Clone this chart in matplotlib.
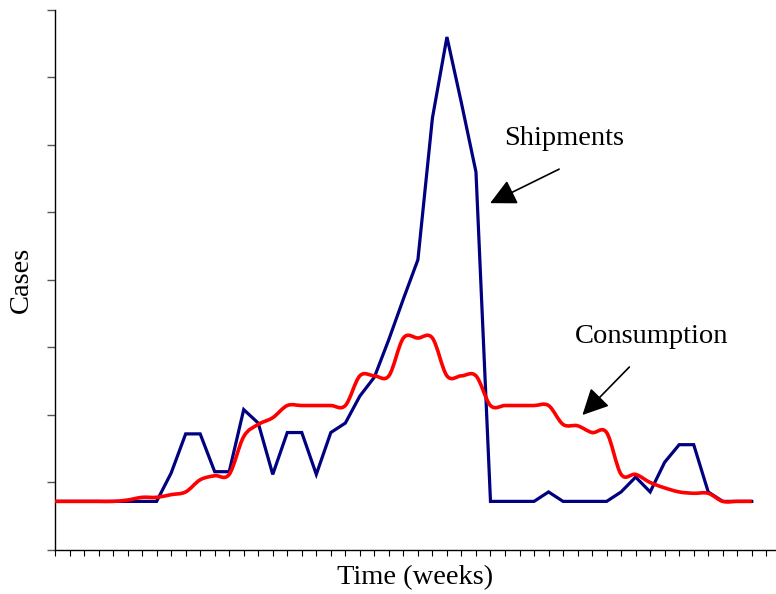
import matplotlib.pyplot as plt
import numpy as np
from matplotlib.path import Path
from matplotlib.patches import PathPatch

plt.rcParams['font.family'] = ['Liberation Serif', 'DejaVu Serif']

# weeks 0..48
weeks = list(range(49))

shipments = [36, 36, 36, 36, 36, 36, 36, 36, 57, 86,
             86, 58, 58, 104, 94, 56, 87, 87, 56, 87,
             94, 114, 128, 156, 186, 215, 320, 380, 331, 280,
             36, 36, 36, 36, 43, 36, 36, 36, 36, 43,
             54, 43, 65, 78, 78, 43, 36, 36, 36]

consumption = [36, 36, 36, 36, 36, 37, 39, 39, 41, 43,
               52, 55, 56, 84, 93, 98, 107, 107, 107, 107,
               107, 129, 129, 129, 157, 157, 157, 129, 129, 129,
               107, 107, 107, 107, 107, 93, 92, 87, 87, 56,
               56, 50, 46, 43, 42, 42, 36, 36, 36]

y_ticks = [0, 50, 100, 150, 200, 250, 300, 350, 400]


# smoothed line like excel (catmull-rom as bezier segments)
def smooth_path(x, y):
    p = np.column_stack([x, y]).astype(float)
    n = len(p)
    verts = [p[0]]
    codes = [Path.MOVETO]
    for i in range(n - 1):
        p0 = p[max(i - 1, 0)]
        p1 = p[i]
        p2 = p[i + 1]
        p3 = p[min(i + 2, n - 1)]
        c1 = p1 + (p2 - p0) / 6.0
        c2 = p2 - (p3 - p1) / 6.0
        verts += [c1, c2, p2]
        codes += [Path.CURVE4] * 3
    return Path(verts, codes)


fig = plt.figure(figsize=(7.76, 5.94), dpi=100)
ax = fig.add_axes([0.0709, 0.0741, 0.9278, 0.9091])

ax.plot(weeks, shipments, color='#000080', lw=2.3, solid_joinstyle='miter', zorder=2)
ax.add_patch(PathPatch(smooth_path(weeks, consumption), facecolor='none',
                       edgecolor='#ff0000', lw=2.6, zorder=3))

ax.set_xlim(0, 49.6)
ax.set_ylim(0, 400)
ax.set_xticks(range(50))
ax.set_yticks(y_ticks)
ax.set_xticklabels([])
ax.set_yticklabels([])
ax.tick_params(axis='x', direction='out', length=4.3, width=0.8, color='black')
ax.tick_params(axis='y', direction='out', length=5.8, width=1.0, color='#555555')

for s in ['top', 'right']:
    ax.spines[s].set_visible(False)
for s in ['left', 'bottom']:
    ax.spines[s].set_linewidth(1.0)

ax.set_xlabel('Time (weeks)', fontsize=20.5, labelpad=3)
ax.set_ylabel('Cases', fontsize=20.5, labelpad=6)

ax.text(35.1, 305, 'Shipments', fontsize=20.5, ha='center', va='center')
ax.annotate('', xy=(29.8, 256), xytext=(34.9, 283),
            arrowprops=dict(arrowstyle='-|>', color='black', lw=1.2, mutation_scale=40))

ax.text(41.1, 158, 'Consumption', fontsize=20.5, ha='center', va='center')
ax.annotate('', xy=(36.2, 98.5), xytext=(39.7, 137),
            arrowprops=dict(arrowstyle='-|>', color='black', lw=1.2, mutation_scale=40))

fig.savefig('out.png', dpi=100)
